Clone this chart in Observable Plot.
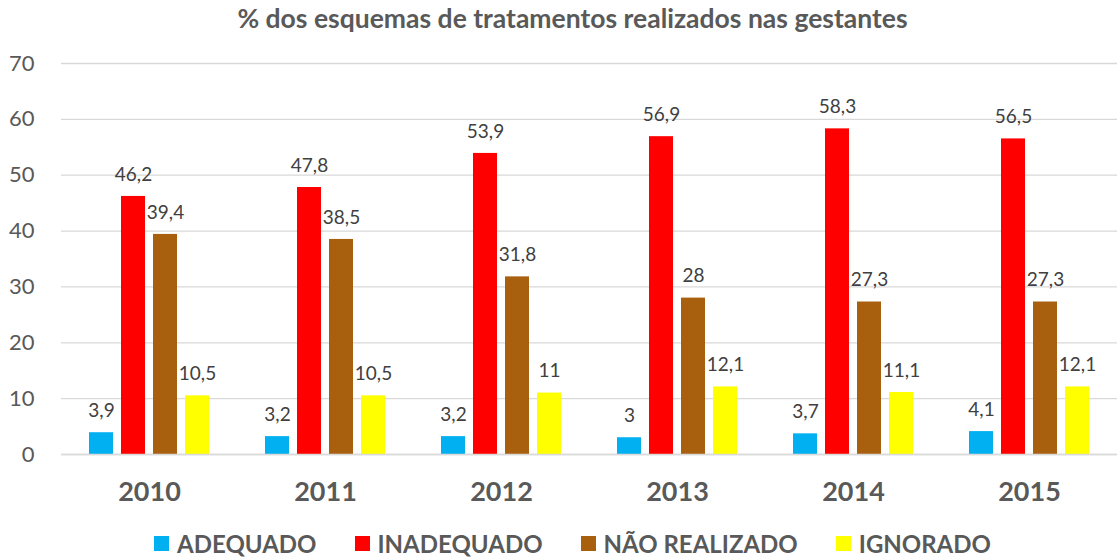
<!DOCTYPE html>
<html>
<head>
<meta charset="utf-8">
<script src="https://cdn.jsdelivr.net/npm/d3@7"></script>
<script src="https://cdn.jsdelivr.net/npm/@observablehq/plot@0.6"></script>
<style>
  html, body { margin: 0; padding: 0; background: #fff; }
  body { width: 1117px; height: 560px; overflow: hidden; font-family: Lato, "Open Sans", sans-serif; }
  #title { height: 40px; line-height: 36px; text-align: center; font-weight: bold; font-size: 26.5px; color: #595959; padding-left: 28px; box-sizing: border-box; white-space: nowrap; }
  #legend { display: flex; justify-content: center; height: 40px; align-items: center; font-weight: bold; font-size: 24px; color: #595959; padding-top: 6px; box-sizing: border-box; padding-left: 28px; }
  .item { display: flex; align-items: center; margin: 0 19px; }
  .sw { width: 15px; height: 15px; margin-right: 8px; }
</style>
</head>
<body>
<div id="title">% dos esquemas de tratamentos realizados nas gestantes</div>
<div id="chart"></div>
<div id="legend"></div>
<script>
const years = ["2010", "2011", "2012", "2013", "2014", "2015"];
const seriesNames = ["ADEQUADO", "INADEQUADO", "NÃO REALIZADO", "IGNORADO"];
const seriesColors = ["#00b0f0", "#ff0000", "#a8600f", "#ffff00"];
const adequado = [3.9, 3.2, 3.2, 3, 3.7, 4.1];
const inadequado = [46.2, 47.8, 53.9, 56.9, 58.3, 56.5];
const naoRealizado = [39.4, 38.5, 31.8, 28, 27.3, 27.3];
const ignorado = [10.5, 10.5, 11, 12.1, 11.1, 12.1];
const yTicks = [0, 10, 20, 30, 40, 50, 60, 70];

const seriesValues = [adequado, inadequado, naoRealizado, ignorado];
const fmt = v => String(v).replace(".", ",");

// Group layout inside each year band (band width 176px)
const bandW = 176, barW = 24, barStep = 32, firstOffset = 28;

const seriesMarks = [];
seriesNames.forEach((s, j) => {
  const rows = years.map((yr, i) => ({year: yr, series: s, value: seriesValues[j][i]}));
  const left = firstOffset + barStep * j;
  seriesMarks.push(Plot.barY(rows, {
    x: "year", y: "value", fill: seriesColors[j],
    insetLeft: left, insetRight: bandW - left - barW
  }));
  seriesMarks.push(Plot.text(rows, {
    x: "year", y: "value", text: d => fmt(d.value),
    dx: left + barW / 2 - bandW / 2, dy: -22, lineAnchor: "middle",
    fontSize: 19, fill: "#404040"
  }));
});

const chart = Plot.plot({
  width: 1117,
  height: 480,
  marginLeft: 61,
  marginRight: 0,
  marginTop: 23,
  marginBottom: 66,
  style: {fontFamily: "Lato, 'Open Sans', sans-serif", background: "#fff"},
  x: {domain: years, padding: 0, label: null},
  y: {domain: [0, 70], label: null},
  marks: [
    Plot.gridY(yTicks, {stroke: "#d9d9d9", strokeOpacity: 1, strokeWidth: 1.3}),
    Plot.axisY(yTicks, {tickSize: 0, tickPadding: 27, fontSize: 22, fill: "#595959", label: null}),
    Plot.axisX({tickSize: 0, tickPadding: 27, fontSize: 27, fontWeight: "bold", fill: "#595959", label: null}),
    ...seriesMarks,
    Plot.ruleY([0], {stroke: "#d9d9d9", strokeWidth: 1.5})
  ]
});
document.getElementById("chart").appendChild(chart);

const legend = document.getElementById("legend");
seriesNames.forEach((s, j) => {
  const it = document.createElement("div");
  it.className = "item";
  const sw = document.createElement("div");
  sw.className = "sw";
  sw.style.background = seriesColors[j];
  const tx = document.createElement("span");
  tx.textContent = s;
  it.appendChild(sw);
  it.appendChild(tx);
  legend.appendChild(it);
});
</script>
</body>
</html>
